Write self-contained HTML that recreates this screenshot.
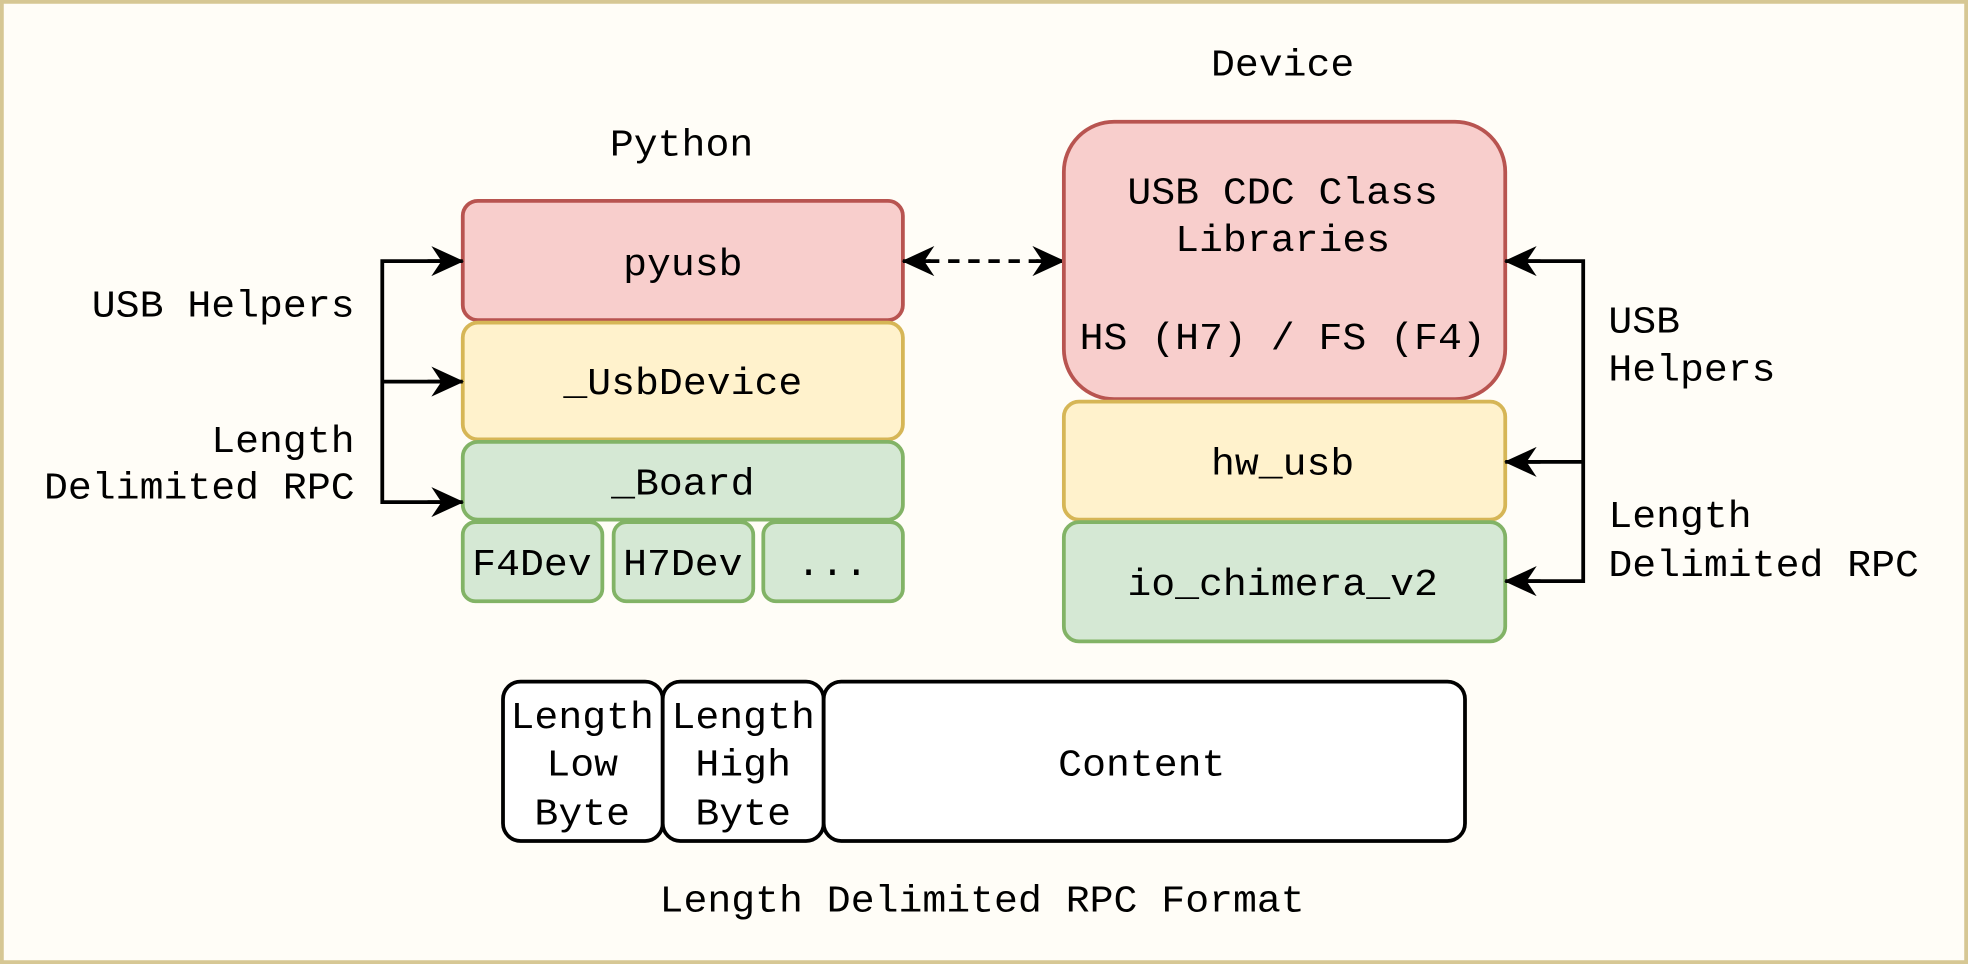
<!DOCTYPE html>
<html><head><meta charset="utf-8"><style>
html,body{margin:0;padding:0;background:#fffdf7;}
svg{display:block;}
text{font-family:"Liberation Mono","DejaVu Sans Mono",monospace;font-size:30px;fill:#000;}
</style></head><body>
<svg width="1968" height="964" viewBox="0 0 1565 768" preserveAspectRatio="none" xmlns="http://www.w3.org/2000/svg">
<defs>
<marker id="ah" viewBox="0 0 26 24" refX="25" refY="12" markerWidth="26" markerHeight="24" markerUnits="userSpaceOnUse" orient="auto-start-reverse">
<path d="M0,0 L26,12 L0,24 L8,12 Z" fill="#000"/>
</marker>
</defs>
<rect x="1.5" y="1.5" width="1562" height="765" fill="#fffdf7" stroke="#d6c794" stroke-width="3"/>

<text x="542" y="124" text-anchor="middle" textLength="114" lengthAdjust="spacingAndGlyphs">Python</text>
<text x="1020" y="60" text-anchor="middle" textLength="114" lengthAdjust="spacingAndGlyphs">Device</text>

<rect x="368" y="160" width="350" height="95" rx="12" fill="#f8cecc" stroke="#b85450" stroke-width="3"/>
<text x="543" y="219" text-anchor="middle" textLength="95" lengthAdjust="spacingAndGlyphs">pyusb</text>
<rect x="368" y="257" width="350" height="93" rx="12" fill="#fff2cc" stroke="#d6b656" stroke-width="3"/>
<text x="543" y="314" text-anchor="middle" textLength="190" lengthAdjust="spacingAndGlyphs">_UsbDevice</text>
<rect x="368" y="352" width="350" height="62" rx="12" fill="#d5e8d4" stroke="#82b366" stroke-width="3"/>
<text x="543" y="394" text-anchor="middle" textLength="114" lengthAdjust="spacingAndGlyphs">_Board</text>
<rect x="368" y="416" width="111" height="63" rx="10" fill="#d5e8d4" stroke="#82b366" stroke-width="3"/>
<text x="423" y="458" text-anchor="middle" textLength="95" lengthAdjust="spacingAndGlyphs">F4Dev</text>
<rect x="488" y="416" width="111" height="63" rx="10" fill="#d5e8d4" stroke="#82b366" stroke-width="3"/>
<text x="543" y="458" text-anchor="middle" textLength="95" lengthAdjust="spacingAndGlyphs">H7Dev</text>
<rect x="607" y="416" width="111" height="63" rx="10" fill="#d5e8d4" stroke="#82b366" stroke-width="3"/>
<text x="662" y="458" text-anchor="middle" textLength="57" lengthAdjust="spacingAndGlyphs">...</text>

<path d="M350,208 H304 V400 H350 M304,304 H350" fill="none" stroke="#000" stroke-width="3"/>
<path d="M340,208 H368" stroke="#000" stroke-width="3" marker-end="url(#ah)"/>
<path d="M340,304 H368" stroke="#000" stroke-width="3" marker-end="url(#ah)"/>
<path d="M340,400 H368" stroke="#000" stroke-width="3" marker-end="url(#ah)"/>
<text x="282" y="252" text-anchor="end" textLength="209" lengthAdjust="spacingAndGlyphs">USB Helpers</text>
<text x="282" y="360" text-anchor="end" textLength="114" lengthAdjust="spacingAndGlyphs">Length</text>
<text x="282" y="397" text-anchor="end" textLength="247" lengthAdjust="spacingAndGlyphs">Delimited RPC</text>

<path d="M738,208 H826" stroke="#000" stroke-width="3" stroke-dasharray="9,7" fill="none"/>
<path d="M740,208 H718" stroke="#000" stroke-width="3" marker-end="url(#ah)"/>
<path d="M824,208 H846" stroke="#000" stroke-width="3" marker-end="url(#ah)"/>

<rect x="846" y="97" width="351" height="221" rx="40" fill="#f8cecc" stroke="#b85450" stroke-width="3"/>
<text x="1020" y="162" text-anchor="middle" textLength="247" lengthAdjust="spacingAndGlyphs">USB CDC Class</text>
<text x="1020" y="200" text-anchor="middle" textLength="171" lengthAdjust="spacingAndGlyphs">Libraries</text>
<text x="1020" y="278" text-anchor="middle" textLength="323" lengthAdjust="spacingAndGlyphs">HS (H7) / FS (F4)</text>
<rect x="846" y="320" width="351" height="94" rx="12" fill="#fff2cc" stroke="#d6b656" stroke-width="3"/>
<text x="1020" y="378" text-anchor="middle" textLength="114" lengthAdjust="spacingAndGlyphs">hw_usb</text>
<rect x="846" y="416" width="351" height="95" rx="12" fill="#d5e8d4" stroke="#82b366" stroke-width="3"/>
<text x="1020" y="474" text-anchor="middle" textLength="247" lengthAdjust="spacingAndGlyphs">io_chimera_v2</text>

<path d="M1215,208 H1259 V463 H1215 M1259,368 H1215" fill="none" stroke="#000" stroke-width="3"/>
<path d="M1225,208 H1197" stroke="#000" stroke-width="3" marker-end="url(#ah)"/>
<path d="M1225,368 H1197" stroke="#000" stroke-width="3" marker-end="url(#ah)"/>
<path d="M1225,463 H1197" stroke="#000" stroke-width="3" marker-end="url(#ah)"/>
<text x="1279" y="265" textLength="57" lengthAdjust="spacingAndGlyphs">USB</text>
<text x="1279" y="303" textLength="133" lengthAdjust="spacingAndGlyphs">Helpers</text>
<text x="1279" y="420" textLength="114" lengthAdjust="spacingAndGlyphs">Length</text>
<text x="1279" y="459" textLength="247" lengthAdjust="spacingAndGlyphs">Delimited RPC</text>

<rect x="400" y="543" width="127" height="127" rx="14" fill="#fff" stroke="#000" stroke-width="3"/>
<rect x="527" y="543" width="128" height="127" rx="14" fill="#fff" stroke="#000" stroke-width="3"/>
<rect x="655" y="543" width="510" height="127" rx="14" fill="#fff" stroke="#000" stroke-width="3"/>
<text x="463" y="580" text-anchor="middle" textLength="114" lengthAdjust="spacingAndGlyphs">Length</text>
<text x="463" y="618" text-anchor="middle" textLength="57" lengthAdjust="spacingAndGlyphs">Low</text>
<text x="463" y="657" text-anchor="middle" textLength="76" lengthAdjust="spacingAndGlyphs">Byte</text>
<text x="591" y="580" text-anchor="middle" textLength="114" lengthAdjust="spacingAndGlyphs">Length</text>
<text x="591" y="618" text-anchor="middle" textLength="76" lengthAdjust="spacingAndGlyphs">High</text>
<text x="591" y="657" text-anchor="middle" textLength="76" lengthAdjust="spacingAndGlyphs">Byte</text>
<text x="908" y="618" text-anchor="middle" textLength="133" lengthAdjust="spacingAndGlyphs">Content</text>
<text x="781" y="726" text-anchor="middle" textLength="513" lengthAdjust="spacingAndGlyphs">Length Delimited RPC Format</text>
</svg>
</body></html>
